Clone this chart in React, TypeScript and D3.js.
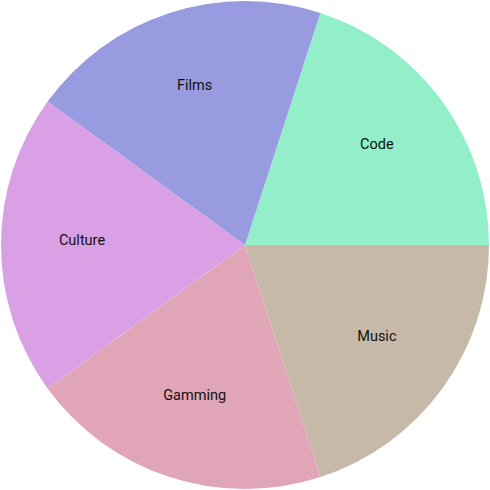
import React from 'react';
import { useEffect, useRef } from 'react';
import { select, pie, arc, scaleOrdinal } from 'd3';

// chart data
const categories = ['Code', 'Music', 'Gamming', 'Culture', 'Films'];
const values = [20, 20, 20, 20, 20];
const colors = ['#93efc9', '#c7b9a8', '#e1a5b8', '#d9a0e5', '#999be0'];

function PieChart() {
  const svgRef = useRef<SVGSVGElement>(null);

  useEffect(() => {
    const width = 490;
    const height = 490;
    const radius = 244;

    const svg = select(svgRef.current)
      .attr('width', width)
      .attr('height', height)
      .style('position', 'absolute')
      .style('left', 0)
      .style('top', 0);

    svg.selectAll('*').remove();

    const g = svg.append('g').attr('transform', `translate(${width / 2},${height / 2})`);

    const color = scaleOrdinal<string, string>().domain(categories).range(colors);

    const pieGen = pie<number>()
      .sort(null)
      .startAngle(Math.PI / 10)
      .endAngle(Math.PI / 10 + 2 * Math.PI);

    const slices = pieGen(values);

    const arcGen = arc<any>().innerRadius(0).outerRadius(radius);
    const labelArc = arc<any>().innerRadius(163).outerRadius(163);

    g.selectAll('.slice')
      .data(slices)
      .join('path')
      .attr('class', 'slice')
      .attr('d', arcGen)
      .attr('fill', (d, i) => color(categories[i]));

    g.selectAll('.label')
      .data(slices)
      .join('text')
      .attr('class', 'label')
      .attr('x', (d) => labelArc.centroid(d)[0])
      .attr('y', (d) => labelArc.centroid(d)[1])
      .attr('text-anchor', 'middle')
      .style('font-family', 'Roboto')
      .style('font-size', '14.5px')
      .attr('fill', '#111')
      .text((d, i) => categories[i]);
  }, []);

  return <svg ref={svgRef}></svg>;
}

export default function App() {
  return <PieChart />;
}
